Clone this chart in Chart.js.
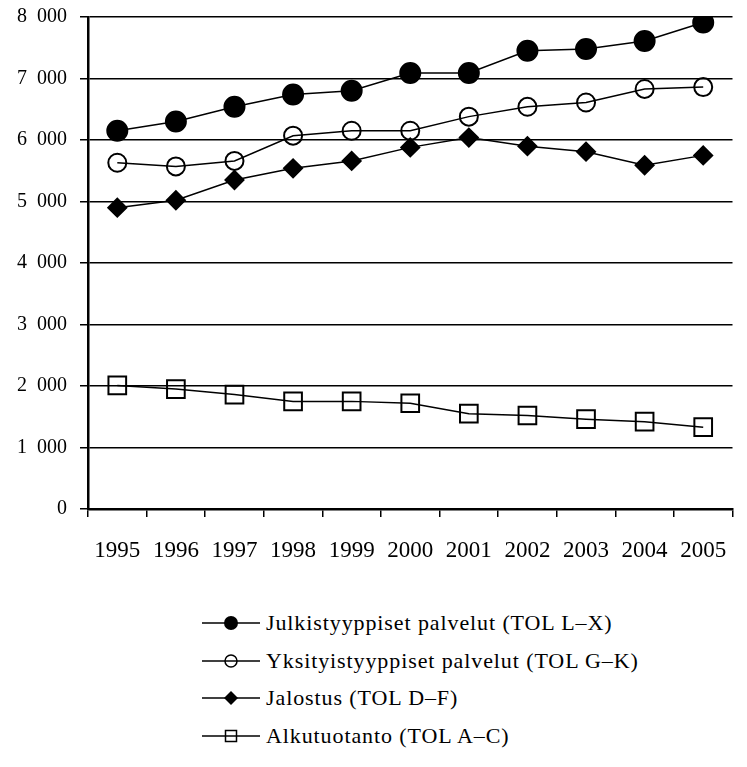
<!DOCTYPE html>
<html>
<head>
<meta charset="utf-8">
<script src="https://cdn.jsdelivr.net/npm/chart.js@4.4.1/dist/chart.umd.min.js"></script>
<style>
  html, body { margin: 0; padding: 0; background: #fff; }
  #wrap { position: relative; width: 747px; height: 767px; }
  #chart { position: absolute; left: 0; top: 0; }
  #legend { position: absolute; left: 202px; top: 604px; font-family: 'Liberation Serif', serif; font-size: 22px; letter-spacing: 0.9px; color: #000; }
  .item { display: flex; align-items: center; height: 37.7px; }
  .item svg { margin-right: 4px; }
</style>
</head>
<body>
<div id="wrap">
  <canvas id="chart" width="747" height="570"></canvas>
  <div id="legend"></div>
</div>
<script>
const years = ["1995", "1996", "1997", "1998", "1999", "2000", "2001", "2002", "2003", "2004", "2005"];
const julkisty = [6150, 6300, 6540, 6740, 6800, 7090, 7090, 7450, 7480, 7610, 7910];
const yksityis = [5630, 5570, 5660, 6070, 6150, 6150, 6380, 6540, 6610, 6830, 6860];
const jalostus = [4900, 5020, 5350, 5540, 5660, 5880, 6040, 5900, 5810, 5590, 5750];
const alkutuotanto = [2010, 1950, 1860, 1750, 1750, 1720, 1550, 1520, 1460, 1420, 1330];

const seriesNames = [
  "Julkistyyppiset palvelut (TOL L\u2013X)",
  "Yksityistyyppiset palvelut (TOL G\u2013K)",
  "Jalostus (TOL D\u2013F)",
  "Alkutuotanto (TOL A\u2013C)"
];

Chart.defaults.font.family = "'Liberation Serif', serif";
Chart.defaults.font.size = 20;
Chart.defaults.color = "#000";

const line = (label, data, style, fill, radius) => ({
  label,
  data,
  borderColor: "#000",
  borderWidth: 1.5,
  pointStyle: style,
  pointRadius: radius,
  pointHoverRadius: radius,
  pointBackgroundColor: fill,
  pointBorderColor: "#000",
  pointBorderWidth: 2,
  tension: 0
});

const chart = new Chart(document.getElementById("chart"), {
  type: "line",
  data: {
    labels: years,
    datasets: [
      line(seriesNames[0], julkisty, "circle", "#000", 10),
      line(seriesNames[1], yksityis, "circle", "rgba(0,0,0,0)", 9),
      line(seriesNames[2], jalostus, "rectRot", "#000", 9),
      line(seriesNames[3], alkutuotanto, "rect", "rgba(0,0,0,0)", 12.5)
    ]
  },
  options: {
    responsive: false,
    animation: false,
    layout: { padding: { top: 0, right: 0, bottom: 0, left: 0 } },
    plugins: { legend: { display: false }, tooltip: { enabled: false } },
    scales: {
      x: {
        offset: true,
        grid: { offset: true, drawOnChartArea: false, color: "#000", tickLength: 8, lineWidth: 1.5 },
        border: { color: "#000", width: 2.5 },
        ticks: { padding: 20, maxRotation: 0, font: { size: 23 } },
        afterFit: (s) => { s.height = 570 - 509; }
      },
      y: {
        min: 0,
        max: 8000,
        grid: { color: "#000", tickLength: 8, lineWidth: 1.5 },
        border: { color: "#000", width: 2.5 },
        ticks: {
          stepSize: 1000,
          padding: 13,
          font: { size: 20, lineHeight: 0.4 },
          callback: (v) => v >= 1000 ? Math.floor(v / 1000) + "\u2007" + String(v % 1000).padStart(3, "0") : String(v)
        },
        afterFit: (s) => { s.width = 88; }
      }
    }
  }
});

const markerSvg = (i) => {
  const l = '<line x1="0" y1="10" x2="58" y2="10" stroke="#000" stroke-width="1.5"/>';
  let m = "";
  if (i === 0) m = '<circle cx="29" cy="10" r="7" fill="#000"/>';
  if (i === 1) m = '<circle cx="29" cy="10" r="6" fill="none" stroke="#000" stroke-width="1.5"/>';
  if (i === 2) m = '<polygon points="29,3 36,10 29,17 22,10" fill="#000"/>';
  if (i === 3) m = '<rect x="23.5" y="4.5" width="11" height="11" fill="none" stroke="#000" stroke-width="1.5"/>';
  return '<svg width="60" height="20">' + l + m + '</svg>';
};

const legend = document.getElementById("legend");
chart.data.datasets.forEach((ds, i) => {
  const row = document.createElement("div");
  row.className = "item";
  row.innerHTML = markerSvg(i) + "<span>" + ds.label + "</span>";
  legend.appendChild(row);
});
</script>
</body>
</html>
